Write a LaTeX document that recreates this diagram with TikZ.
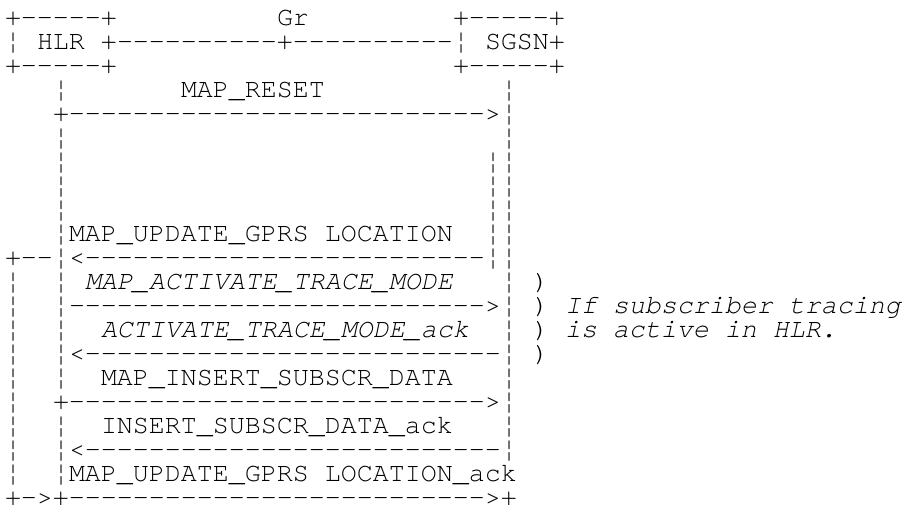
\documentclass[tikz,border=0pt]{standalone}
\usepackage{fontspec}
\setmonofont{TeX Gyre Cursor}
\begin{document}
\begin{tikzpicture}[
    x=8pt, y=-12pt, % one character cell, one text line
    font=\fontsize{13.33pt}{12pt}\ttfamily,
    txt/.style={anchor=base west, inner sep=0pt, outer sep=0pt},
    slanted/.style={txt, font=\fontsize{13.33pt}{12pt}\ttfamily\itshape},
    bar/.style={txt}
  ]
  \useasboundingbox (-0.3125,-0.0667) rectangle (56.3125,20.9333);

  % Rows 1-3: HLR and SGSN boxes on the Gr interface
  \node[txt] (hlrtop) at (0,1) {+-----+};
  \node[txt] (gr) at (17,1) {Gr};
  \node[txt] (sgsntop) at (28,1) {+-----+};
  \node[bar] (hlrside) at (0,2) {¦};
  \node[txt] (hlr) at (2,2) {HLR +};
  \node[txt] (grlink) at (7,2) {----------+----------};
  \node[bar] (sgsnside) at (28,2) {¦};
  \node[txt] (sgsn) at (30,2) {SGSN+};
  \node[txt] (hlrbot) at (0,3) {+-----+};
  \node[txt] (sgsnbot) at (28,3) {+-----+};

  % Life lines
  \foreach \r in {4,6,7,8,9,10,11,12,13,14,15,16,18,19,20} {
    \node[bar] (hlrline\r) at (3,\r) {¦};
  }
  \foreach \r in {4,...,19} {
    \node[bar] (sgsnline\r) at (31,\r) {¦};
  }
  \foreach \r in {7,...,11} {
    \node[bar] (sgsninner\r) at (30,\r) {¦};
  }
  \foreach \r in {12,...,20} {
    \node[bar] (loopline\r) at (0,\r) {¦};
  }

  % Row 4-5: MAP_RESET
  \node[txt] (reset) at (11,4) {MAP\_RESET};
  \node[txt] (resetarr) at (3,5) {+-------------------------->};

  % Row 10-11: update location
  \node[txt] (update) at (4,10) {MAP\_UPDATE\_GPRS LOCATION};
  \node[txt] (loopstart) at (0,11) {+--};
  \node[txt] (updatearr) at (4,11) {<-------------------------};

  % Row 12-15: trace mode (only if tracing is active)
  \node[slanted] (trace) at (5,12) {MAP\_ACTIVATE\_TRACE\_MODE};
  \node[txt] (tracearr) at (4,13) {-------------------------->};
  \node[slanted] (traceack) at (6,14) {ACTIVATE\_TRACE\_MODE\_ack};
  \node[txt] (traceackarr) at (4,15) {<--------------------------};
  \foreach \r in {12,...,15} {
    \node[txt] (paren\r) at (33,\r) {)};
  }
  \node[slanted] (note1) at (35,13) {If subscriber tracing};
  \node[slanted] (note2) at (35,14) {is active in HLR.};

  % Row 16-19: subscriber data
  \node[txt] (insert) at (6,16) {MAP\_INSERT\_SUBSCR\_DATA};
  \node[txt] (insertarr) at (3,17) {+-------------------------->};
  \node[txt] (insertack) at (6,18) {INSERT\_SUBSCR\_DATA\_ack};
  \node[txt] (insertackarr) at (4,19) {<--------------------------};

  % Row 20-21: update location ack
  \node[txt] (updateack) at (4,20) {MAP\_UPDATE\_GPRS LOCATION\_ack};
  \node[txt] (updateackarr) at (0,21) {+->+-------------------------->+};

\end{tikzpicture}
\end{document}
